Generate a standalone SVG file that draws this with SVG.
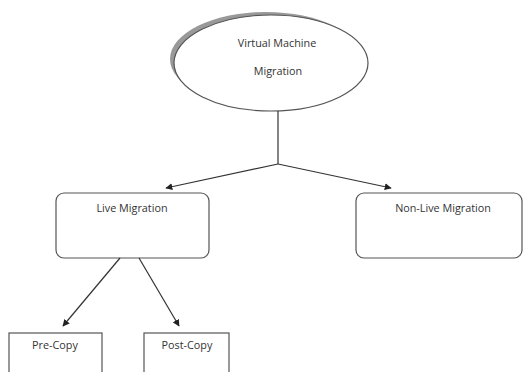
<svg xmlns="http://www.w3.org/2000/svg" width="527" height="372" viewBox="0 0 527 372">
<style>
.box{fill:#fff;stroke:#555;stroke-width:1.2}
.lbl{font-family:"Open Sans","Liberation Sans",sans-serif;font-size:10.8px;fill:#333;text-anchor:middle}
.con{fill:none;stroke:#333;stroke-width:1.2}
</style>
<defs>
<marker id="ah" viewBox="0 0 10 10" refX="9" refY="5" markerWidth="7" markerHeight="7" orient="auto" markerUnits="userSpaceOnUse">
<path d="M0,0 L10,5 L0,10 z" fill="#222"/>
</marker>
</defs>
<rect width="527" height="372" fill="#fff"/>
<g id="vmm">
<ellipse cx="266" cy="59" rx="96" ry="47" fill="#999"/>
<ellipse cx="271" cy="63" rx="97" ry="48" class="box"/>
<text class="lbl" x="277" y="47">Virtual Machine</text>
<text class="lbl" x="278" y="75">Migration</text>
</g>
<g id="live">
<rect x="56" y="193" width="153" height="65" rx="8" class="box"/>
<text class="lbl" x="132" y="212">Live Migration</text>
</g>
<g id="nonlive">
<rect x="356" y="193" width="166" height="65" rx="8" class="box"/>
<text class="lbl" x="443" y="212">Non-Live Migration</text>
</g>
<g id="precopy">
<rect x="9" y="333" width="93" height="45" class="box"/>
<text class="lbl" x="55" y="349">Pre-Copy</text>
</g>
<g id="postcopy">
<rect x="144" y="333" width="85" height="45" class="box"/>
<text class="lbl" x="187" y="349">Post-Copy</text>
</g>
<g id="connectors">
<line class="con" x1="278" y1="111" x2="278" y2="164"/>
<line class="con" x1="278" y1="164" x2="166" y2="188" marker-end="url(#ah)"/>
<line class="con" x1="278" y1="164" x2="391" y2="188" marker-end="url(#ah)"/>
<line class="con" x1="120" y1="258" x2="63" y2="326" marker-end="url(#ah)"/>
<line class="con" x1="139" y1="258" x2="179" y2="326" marker-end="url(#ah)"/>
</g>
</svg>
